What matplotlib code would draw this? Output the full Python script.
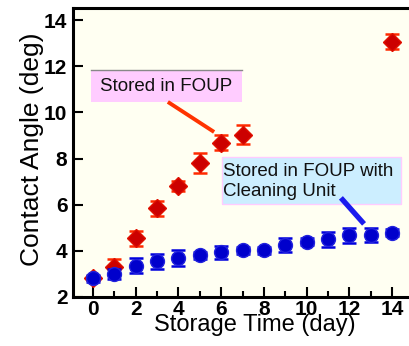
import matplotlib
matplotlib.use("Agg")
import matplotlib.pyplot as plt
from matplotlib.patches import Rectangle
from matplotlib.ticker import MultipleLocator

plt.rcParams['font.family'] = ['Liberation Sans', 'DejaVu Sans']

# FOUP only
red_days = [0, 1, 2, 3, 4, 5, 6, 7, 14]
red_vals = [2.83, 3.31, 4.54, 5.84, 6.81, 7.79, 8.69, 9.02, 13.06]
red_err = [0.1, 0.32, 0.33, 0.33, 0.23, 0.43, 0.31, 0.41, 0.32]

# FOUP with cleaning unit
blue_days = list(range(15))
blue_vals = [2.81, 3.0, 3.36, 3.54, 3.69, 3.81, 3.94, 4.03, 4.03, 4.26, 4.4, 4.5, 4.68, 4.7, 4.79]
blue_err = [0.15, 0.22, 0.33, 0.33, 0.33, 0.15, 0.29, 0.15, 0.15, 0.31, 0.15, 0.32, 0.32, 0.31, 0.15]

fig = plt.figure(figsize=(4.09, 3.46), dpi=100)
ax = fig.add_axes([73 / 409, 1 - 297 / 346, 340 / 409, 289 / 346])
ax.set_facecolor('#fffff2')

ax.errorbar(red_days, red_vals, yerr=red_err, fmt='D', ms=9, mfc='#cc0000', mec='#e01000',
            ecolor='#ff2a00', elinewidth=1.8, capsize=5, capthick=1.8, zorder=3)
ax.errorbar(blue_days, blue_vals, yerr=blue_err, fmt='o', ms=10, mfc='#0000cc', mec='#2222dd',
            ecolor='#0000dd', elinewidth=1.8, capsize=5, capthick=1.8, zorder=4)

ax.set_xlim(-0.936, 14.98)
ax.set_ylim(2, 14.52)
ax.xaxis.set_major_locator(MultipleLocator(2))
ax.xaxis.set_minor_locator(MultipleLocator(1))
ax.yaxis.set_major_locator(MultipleLocator(2))
ax.tick_params(which='major', direction='in', length=7, width=1.5, labelsize=15, pad=2)
ax.tick_params(which='minor', direction='in', length=4, width=1.5)
ax.tick_params(axis='y', pad=4)
for lab in ax.get_xticklabels() + ax.get_yticklabels():
    lab.set_fontweight('bold')
for s in ax.spines.values():
    s.set_linewidth(2.2)

ax.set_xlabel('Storage Time (day)', fontsize=17)
ax.xaxis.set_label_coords(0.536, -0.06)
ax.set_ylabel('Contact Angle (deg)', fontsize=19)
ax.yaxis.set_label_coords(-0.086, 0.512)

# annotation boxes
ax.add_patch(Rectangle((0.053, 0.675), 0.444, 0.11, transform=ax.transAxes,
                       facecolor='#ffccff', edgecolor='none', zorder=5))
ax.plot([0.053, 0.497], [0.785, 0.785], transform=ax.transAxes, color='#888888', lw=1, zorder=6)
ax.text(0.079, 0.728, 'Stored in FOUP', transform=ax.transAxes, fontsize=13.5,
        va='center', ha='left', color='#111111', zorder=7)
ax.plot([0.279, 0.415], [0.675, 0.571], transform=ax.transAxes, color='#ff3300', lw=2.8,
        solid_capstyle='butt', zorder=5)

ax.add_patch(Rectangle((0.438, 0.322), 0.527, 0.162, transform=ax.transAxes,
                       facecolor='#cceeff', edgecolor='#ffccff', lw=1, zorder=5))
ax.text(0.441, 0.400, 'Stored in FOUP with\nCleaning Unit', transform=ax.transAxes,
        fontsize=13.5, va='center', ha='left', linespacing=1.25, color='#111111', zorder=7)
ax.plot([0.788, 0.856], [0.343, 0.253], transform=ax.transAxes, color='#1a1aee', lw=3.8,
        solid_capstyle='butt', zorder=5)

fig.savefig('out.png', dpi=100)
